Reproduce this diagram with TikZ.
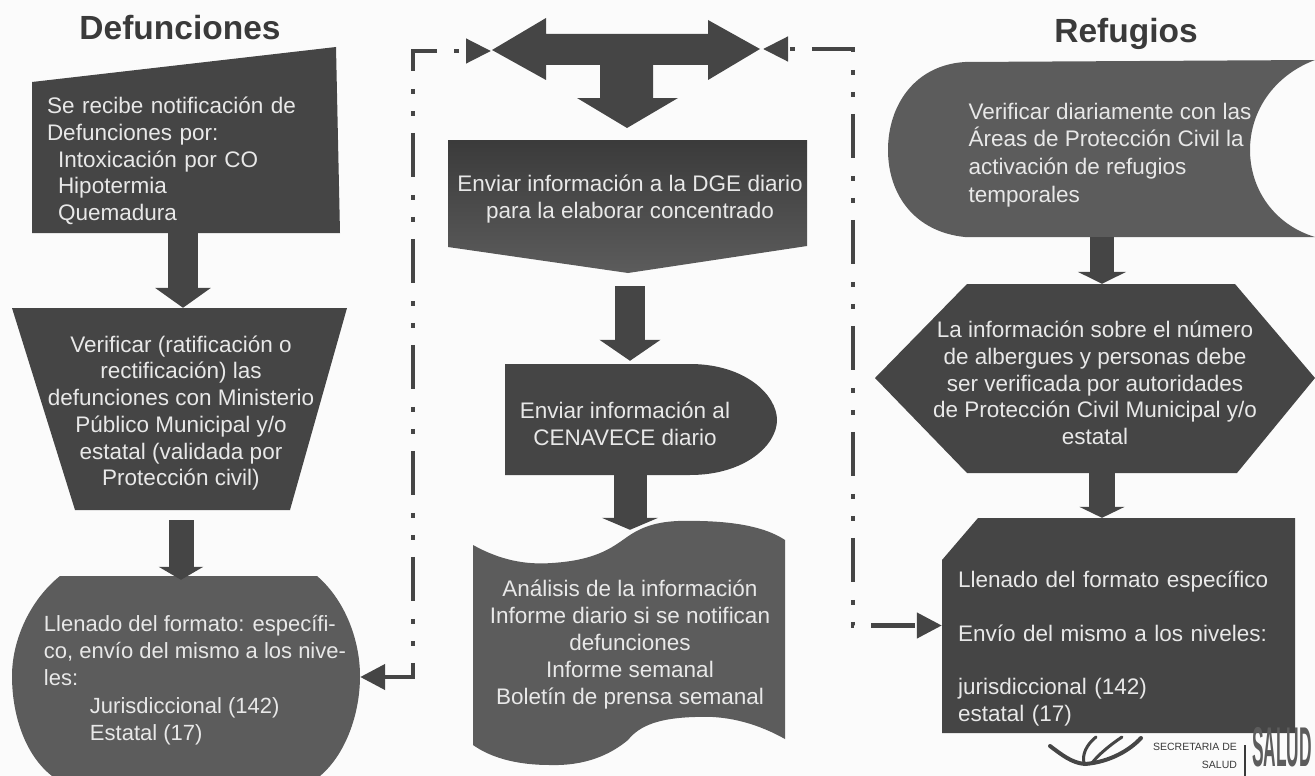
\documentclass[tikz,border=0pt]{standalone}
\usepackage{fontspec}
\setmainfont{Liberation Sans}
\newfontfamily\saludfont[FakeStretch=0.31]{Liberation Sans}
\usetikzlibrary{arrows.meta}

\definecolor{fondo}{HTML}{FBFBFB}
\definecolor{oscuro}{HTML}{454545}
\definecolor{medio}{HTML}{5C5C5C}
\definecolor{claro}{HTML}{E8E8E8}
\definecolor{titulo}{HTML}{3A3A3A}

\tikzset{
    caja/.style={text=claro, align=center, inner sep=0pt, font=\fontsize{22.5}{26.7}\selectfont},
    cajaizq/.style={caja, align=left},
    titulos/.style={text=titulo, inner sep=0pt, font=\fontsize{33.5}{38}\selectfont\bfseries},
    bloque/.style n args={3}{draw=oscuro, line width=#1, -{Triangle[length=#3, width=#2]}},
    enlace/.style={draw=oscuro, line width=4.5pt, dash pattern=on 44pt off 18pt on 5pt off 17pt on 5pt off 17pt,
        {Triangle[length=25pt, width=24pt]}-{Triangle[length=25pt, width=25pt]}},
    logo/.style={draw=oscuro, line width=3pt, line cap=round}
}

\begin{document}
\begin{tikzpicture}[x=1pt,y=-1pt]
    \useasboundingbox (0,0) rectangle (1315,776);
    \fill[fondo] (0,0) rectangle (1315,776);

    % formas
    \fill[oscuro] (32,82) -- (336,47) -- (340,233) -- (32,233) -- cycle;
    \fill[oscuro] (12,308) -- (347,308) -- (290,510) -- (75,510) -- cycle;
    \fill[medio] (60,576) -- (317,576) .. controls (345,600) and (360,640) .. (360,676)
        .. controls (360,715) and (345,755) .. (320,776) -- (52,776)
        .. controls (25,755) and (12,715) .. (12,676) .. controls (12,640) and (30,600) .. (60,576) -- cycle;
    \fill[oscuro] (492,50) -- (546,18) -- (546,34) -- (708,34) -- (708,20) -- (760,49) -- (708,80)
        -- (708,65) -- (653,65) -- (653,98) -- (678,98) -- (627,128) -- (577,98) -- (600,98)
        -- (600,65) -- (546,65) -- (546,80) -- cycle;
    \shade[top color=oscuro!85!black, bottom color=medio] (448,140) -- (807,140) -- (807,246) -- (628,273) -- (448,247) -- cycle;
    \fill[oscuro] (505,364) -- (690,364) .. controls (745,364) and (777,395) .. (777,420)
        .. controls (777,445) and (745,475) .. (690,475) -- (505,475) -- cycle;
    \fill[medio] (473,545) .. controls (500,560) and (525,565) .. (552,563)
        .. controls (600,560) and (615,545) .. (630,535) .. controls (650,522) and (670,520) .. (700,521)
        .. controls (745,522) and (770,530) .. (785,540) -- (785,739)
        .. controls (760,725) and (730,715) .. (695,717) .. controls (660,718) and (640,725) .. (628,740)
        .. controls (610,755) and (585,766) .. (550,765) .. controls (515,765) and (490,757) .. (473,745) -- cycle;
    \fill[medio] (965,62) -- (1315,60) .. controls (1275,75) and (1250,110) .. (1250,150)
        .. controls (1250,190) and (1275,225) .. (1315,237) -- (965,237)
        .. controls (915,232) and (888,195) .. (888,150) .. controls (888,105) and (915,65) .. (965,62) -- cycle;
    \fill[oscuro] (875,378) -- (967,284) -- (1235,284) -- (1315,378) -- (1237,473) -- (967,473) -- cycle;
    \fill[oscuro] (978,518) -- (1295,518) -- (1295,733) -- (942,733) -- (942,560) -- cycle;

    % titulos
    \node[titulos] at (180,28) (tdefunciones) {Defunciones};
    \node[titulos] at (1126,34) (trefugios) {Refugios};

    % columna izquierda
    \node[cajaizq, text width=272pt, minimum height=144pt] at (183,161) (recibe)
        {Se recibe notificación de\\Defunciones por:\\\hspace*{11pt}Intoxicación por CO\\\hspace*{11pt}Hipotermia\\\hspace*{11pt}Quemadura};
    \node[caja, minimum height=210pt] at (181,413) (verifica)
        {Verificar (ratificación o\\rectificación) las\\defunciones con Ministerio\\Público Municipal y/o\\estatal (validada por\\Protección civil)};
    \node[cajaizq, minimum width=330pt, minimum height=200pt, font=\fontsize{22}{27.2}\selectfont] at (195,680) (llenadodef)
        {Llenado del formato: específi-\\co, envío del mismo a los nive-\\les:\\\hspace*{46pt}Jurisdiccional (142)\\\hspace*{46pt}Estatal (17)};

    % columna central
    \node[caja, minimum height=148pt] at (630,199) (enviadge)
        {Enviar información a la DGE diario\\para la elaborar concentrado};
    \node[caja, minimum height=103pt] at (625,423.5) (enviacena)
        {Enviar información al\\CENAVECE diario};
    \node[caja, minimum height=230pt, font=\fontsize{22.5}{27}\selectfont] at (630,645) (analisis)
        {Análisis de la información\\Informe diario si se notifican\\defunciones\\Informe semanal\\Boletín de prensa semanal};

    % columna derecha
    \node[cajaizq, minimum height=164pt, font=\fontsize{22.5}{27.7}\selectfont] at (1110,155) (verificaref)
        {Verificar diariamente con las\\Áreas de Protección Civil la\\activación de refugios\\temporales};
    \node[caja, minimum height=198pt] at (1095,383) (albergues)
        {La información sobre el número\\de albergues y personas debe\\ser verificada por autoridades\\de Protección Civil Municipal y/o\\estatal};
    \node[cajaizq, text width=321pt, minimum width=353pt, minimum height=261pt] at (1118.5,648.5) (llenadoref)
        {Llenado del formato específico\\[26.7pt]Envío del mismo a los niveles:\\[26.7pt]jurisdiccional (142)\\estatal (17)};

    % flechas de bloque
    \coordinate[xshift=5pt] (salidacena) at (enviacena.south);
    \coordinate[xshift=-8pt] (salidaref) at (verificaref.south);
    \coordinate[xshift=7pt] (salidaalb) at (albergues.south);
    \draw[bloque={30pt}{55pt}{20pt}] (recibe.south) -- (recibe.south |- verifica.north);
    \draw[bloque={25pt}{44pt}{13pt}, shorten <=2pt] (verifica.south) -- (verifica.south |- llenadodef.north);
    \draw[bloque={30pt}{60pt}{21pt}, shorten <=13pt, shorten >=11pt] (enviadge.south) -- (enviadge.south |- enviacena.north);
    \draw[bloque={33pt}{56pt}{12pt}] (salidacena) -- (salidacena |- analisis.north);
    \draw[bloque={24pt}{48pt}{12pt}] (salidaref) -- (salidaref |- albergues.north);
    \draw[bloque={26pt}{45pt}{11pt}, shorten <=-9pt] (salidaalb) -- (salidaalb |- llenadoref.north);

    % enlaces punteados
    \coordinate (entradaizq) at (491,51);
    \coordinate (esquinaizq) at (413,51);
    \coordinate (llegadaizq) at ([yshift=3pt]llenadodef.east);
    \coordinate (entradader) at (763,49);
    \coordinate (esquinader) at (853,49);
    \coordinate (llegadader) at ([yshift=23pt]llenadoref.west);
    \draw[enlace, dash phase=76pt] (entradaizq) -- (esquinaizq) |- (llegadaizq);
    \draw[enlace, dash phase=81pt] (entradader) -- (esquinader) |- (llegadader);

    % logotipo
    \draw[logo, line width=4pt] (1050,746) .. controls (1062,755) and (1072,763) .. (1085,764) .. controls (1110,762) and (1130,750) .. (1141,738);
    \draw[logo] (1096,737) .. controls (1086,745) and (1082,755) .. (1084,763);
    \draw[logo] (1122,737) .. controls (1110,745) and (1098,755) .. (1092,763);
    \node[text=titulo, align=right, inner sep=0pt, font=\fontsize{10.5}{18}\selectfont] at (1195,756) (secretaria) {SECRETARIA DE\\SALUD};
    \draw[titulo, line width=1.5pt] (secretaria.north east) ++(8pt,-2pt) -- ++(0,-32pt);
    \node[text=medio, inner sep=0pt, font=\saludfont\fontsize{56}{56}\selectfont\bfseries] at (1282,747) (salud) {SALUD};
\end{tikzpicture}
\end{document}
